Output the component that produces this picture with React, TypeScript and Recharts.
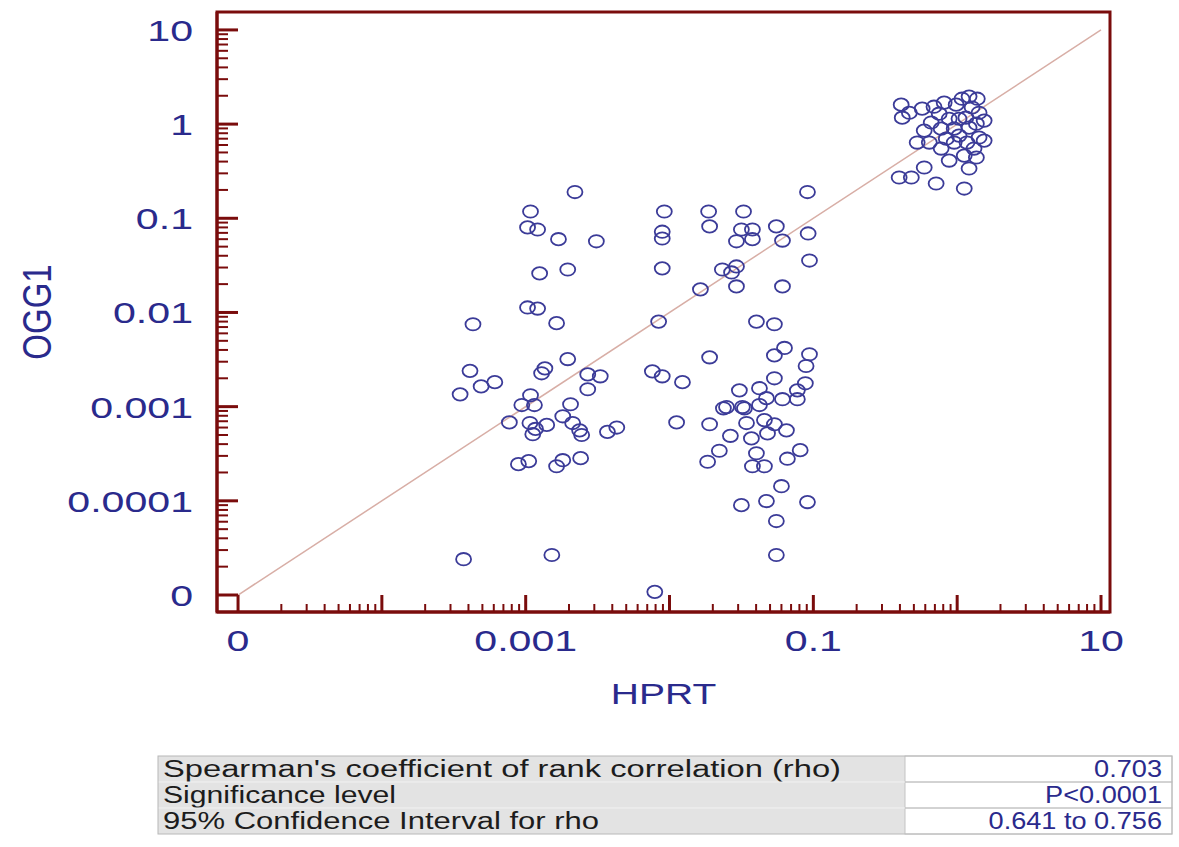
import React from 'react';
import { ScatterChart, Scatter, XAxis, YAxis, ReferenceLine, ReferenceArea } from 'recharts';

// HPRT / OGG1 pairs, grouped by cluster
const hprtLow = [
  0.0022, 0.00108, 0.00103, 0.00121, 0.00169, 0.0031, 0.00125, 0.00196, 0.00103, 0.00121,
  0.00164, 0.00043, 0.00196, 0.00041, 0.00049, 0.00061, 0.00035, 0.00129, 0.00136, 0.0027,
  0.0033, 0.0027, 0.00108, 0.00094, 0.00115, 0.00205, 0.00077, 0.00107, 0.00117, 0.0014,
  0.00112, 0.00181, 0.00212, 0.00237, 0.00245, 0.0037, 0.0043, 0.00089, 0.00105, 0.00164,
  0.00181, 0.00241, 0.00037, 0.00152, 0.0079,
];
const ogg1Low = [
  0.19, 0.118, 0.08, 0.076, 0.06, 0.057, 0.026, 0.0286, 0.0113, 0.011,
  0.0077, 0.0075, 0.0032, 0.0024, 0.00164, 0.00182, 0.00135, 0.00226, 0.00255, 0.0022,
  0.0021, 0.00153, 0.00132, 0.00104, 0.00104, 0.00106, 0.00068, 0.00067, 0.00058, 0.00064,
  0.00051, 0.00079, 0.00067, 0.00056, 0.0005, 0.00054, 0.0006, 0.000245, 0.000264, 0.000233,
  0.00027, 0.000284, 0.000024, 0.0000266, 0.0000108,
];

const hprtMid = [
  0.091, 0.0092, 0.0187, 0.0327, 0.0089, 0.0089, 0.019, 0.0316, 0.0377, 0.0553,
  0.0292, 0.0377, 0.061, 0.092, 0.094, 0.0089, 0.0233, 0.027, 0.0292, 0.0164,
  0.0292, 0.061, 0.0084, 0.0402, 0.0536, 0.019, 0.0536, 0.063, 0.094, 0.089,
  0.0076, 0.0089, 0.0123, 0.0536, 0.0306, 0.0422, 0.088, 0.0774, 0.061, 0.0472,
  0.0774, 0.0249, 0.0321, 0.0112, 0.019, 0.0237, 0.0332, 0.0422, 0.0343, 0.0457,
  0.0536, 0.065, 0.0265, 0.0371, 0.048, 0.0222, 0.0184, 0.0402, 0.0377, 0.0457,
  0.066, 0.081, 0.06, 0.0316, 0.0472, 0.091, 0.0553, 0.0553,
];
const ogg1Mid = [
  0.19, 0.118, 0.118, 0.118, 0.072, 0.061, 0.082, 0.076, 0.076, 0.082,
  0.057, 0.06, 0.058, 0.069, 0.0356, 0.0294, 0.0286, 0.0266, 0.0308, 0.0176,
  0.0189, 0.0189, 0.008, 0.008, 0.0075, 0.00334, 0.0035, 0.0042, 0.0036, 0.0027,
  0.00237, 0.0021, 0.00182, 0.002, 0.00149, 0.00157, 0.00177, 0.00149, 0.0012, 0.00123,
  0.0012, 0.00099, 0.00099, 0.00068, 0.00065, 0.00096, 0.00096, 0.00104, 0.00067, 0.00072,
  0.00065, 0.00056, 0.00049, 0.00046, 0.00052, 0.00034, 0.00026, 0.00032, 0.000233, 0.000233,
  0.00028, 0.000345, 0.000143, 0.00009, 0.0000994, 0.000097, 0.000061, 0.0000266,
];

const hprtHigh = [
  0.408, 0.415, 0.571, 0.812, 1.08, 1.21, 1.27, 0.75, 0.88, 1.15,
  1.42, 0.66, 0.774, 0.953, 1.21, 1.36, 0.527, 0.64, 0.774, 0.953,
  1.17, 1.42, 0.88, 1.12, 1.36, 1.21, 0.59, 0.395, 0.48, 0.714,
  1.12, 1.54, 1.38, 1.03, 0.84, 0.59, 1.03, 0.465, 1.31, 1.54,
  0.984, 0.69,
];
const ogg1High = [
  1.61, 1.17, 1.46, 1.69, 1.86, 1.96, 1.5, 1.29, 1.14, 1.17,
  1.32, 1.04, 0.895, 0.895, 0.918, 1.01, 0.637, 0.637, 0.55, 0.637,
  0.637, 0.72, 0.41, 0.463, 0.442, 0.338, 0.346, 0.271, 0.271, 0.234,
  0.207, 1.09, 1.86, 0.755, 0.7, 0.853, 1.14, 1.32, 0.55, 0.668,
  1.61, 1.53,
];

const decades = [0.00001, 0.0001, 0.001, 0.01, 0.1, 1, 10];
const minorSteps = [2, 3, 4, 5, 6, 7, 8, 9];
const yTickLabels = ['0', '0.0001', '0.001', '0.01', '0.1', '1', '10'];
const xTickLabels = ['0', '', '0.001', '', '0.1', '', '10'];

const statRows = [
  ["Spearman's coefficient of rank correlation (rho)", '0.703'],
  ['Significance level', 'P<0.0001'],
  ['95% Confidence Interval for rho', '0.641 to 0.756'],
];

const AXIS = '#7a0c0c';
const TEXT = '#2a2a8c';
const FONT = '"Liberation Sans", Arial, sans-serif';
const X_DOMAIN = [7.14e-6, 11.55];
const Y_DOMAIN = [6.6e-6, 15.5];

const zip = (xs: number[], ys: number[]) => xs.map((x, i) => ({ x, y: ys[i] }));
const points = [...zip(hprtLow, ogg1Low), ...zip(hprtMid, ogg1Mid), ...zip(hprtHigh, ogg1High)];

const allTicks = decades.flatMap((d, i) =>
  i < decades.length - 1 ? [d, ...minorSteps.map((m) => +(m * d).toPrecision(3))] : [d]
);
const decadeIndex = (v: number) => decades.findIndex((d) => Math.abs(d - v) / d < 1e-6);

const XTick = (props: any) => {
  const { x, y, payload } = props;
  const i = decadeIndex(payload.value);
  const major = i >= 0;
  return (
    <g>
      <line x1={x} y1={y} x2={x} y2={y - (major ? 17 : 8)} stroke={AXIS} strokeWidth={major ? 3 : 2} />
      {major && xTickLabels[i] && (
        <text transform={`translate(${x},${y + 39}) scale(1.37,1)`} textAnchor="middle"
          fill={TEXT} fontSize={30} fontFamily={FONT}>{xTickLabels[i]}</text>
      )}
    </g>
  );
};

const YTick = (props: any) => {
  const { x, y, payload } = props;
  const i = decadeIndex(payload.value);
  const major = i >= 0;
  return (
    <g>
      <line x1={x} y1={y} x2={x + (major ? 21 : 11)} y2={y} stroke={AXIS} strokeWidth={major ? 3 : 2} />
      {major && (
        <text transform={`translate(${x - 24},${y + 11}) scale(1.37,1)`} textAnchor="end"
          fill={TEXT} fontSize={30} fontFamily={FONT}>{yTickLabels[i]}</text>
      )}
    </g>
  );
};

const Ring = (props: any) => (
  <ellipse cx={props.cx} cy={props.cy} rx={7.5} ry={6.2} fill="none" stroke="#3b3b98" strokeWidth={1.8} />
);

const StatsTable = () => {
  const left = 158, split = 905, right = 1172, top = 16, rowH = 26;
  const leftWidths = [678, 233, 436];
  return (
    <svg width={1179} height={107} style={{ position: 'absolute', left: 0, top: 740 }}>
      <rect x={left} y={top} width={split - left} height={rowH * 3} fill="#e3e3e3" />
      <rect x={split} y={top} width={right - split} height={rowH * 3} fill="#fff" />
      {statRows.map((row, r) => (
        <g key={r}>
          <rect x={split} y={top + r * rowH} width={right - split} height={rowH} fill="none" stroke="#c4c4c4" />
          {r > 0 && <line x1={left} x2={split} y1={top + r * rowH} y2={top + r * rowH} stroke="#f2f2f2" />}
          <text x={left + 5} y={top + r * rowH + 21} fontSize={23} fontFamily={FONT} fill="#1c1c1c"
            textLength={leftWidths[r]} lengthAdjust="spacingAndGlyphs">{row[0]}</text>
          <text transform={`translate(${right - 10},${top + r * rowH + 21}) scale(1.18,1)`} textAnchor="end"
            fontSize={23} fontFamily={FONT} fill={TEXT}>{row[1]}</text>
        </g>
      ))}
      <rect x={left} y={top} width={right - left} height={rowH * 3} fill="none" stroke="#b8b8b8" />
    </svg>
  );
};

export default function App() {
  return (
    <div style={{ position: 'absolute', left: 0, top: 0, width: 1179, height: 847, background: '#fff' }}>
      <ScatterChart width={1179} height={740} margin={{ top: 12, right: 69, bottom: 40, left: 0 }}>
        <XAxis type="number" dataKey="x" scale="log" domain={X_DOMAIN} allowDataOverflow
          ticks={allTicks} interval={0} tick={<XTick />} tickLine={false} tickSize={0} tickMargin={0}
          axisLine={{ stroke: AXIS, strokeWidth: 3 }} height={88}
          label={{ value: 'HPRT', content: (p: any) => (
            <text transform={`translate(${p.viewBox.x + p.viewBox.width / 2},${p.viewBox.y + 92}) scale(1.3,1)`}
              textAnchor="middle" fill={TEXT} fontSize={30} fontFamily={FONT}>HPRT</text>
          ) }} />
        <YAxis type="number" dataKey="y" scale="log" domain={Y_DOMAIN} allowDataOverflow
          ticks={allTicks} interval={0} tick={<YTick />} tickLine={false} tickSize={0} tickMargin={0}
          axisLine={{ stroke: AXIS, strokeWidth: 3 }} width={217}
          label={{ value: 'OGG1', content: (p: any) => (
            <text transform={`translate(51,${p.viewBox.y + p.viewBox.height / 2}) scale(1.37,1.1) rotate(-90)`}
              textAnchor="middle" fill={TEXT} fontSize={30} fontFamily={FONT}>OGG1</text>
          ) }} />
        <ReferenceArea x1={X_DOMAIN[0]} x2={X_DOMAIN[1]} y1={Y_DOMAIN[0]} y2={Y_DOMAIN[1]}
          fill="none" fillOpacity={0} stroke={AXIS} strokeWidth={3} ifOverflow="visible" />
        <ReferenceLine segment={[{ x: 0.00001, y: 0.00001 }, { x: 10, y: 10 }]}
          stroke="#d8aea6" strokeWidth={1.5} ifOverflow="visible" />
        <Scatter data={points} shape={<Ring />} isAnimationActive={false} />
      </ScatterChart>
      <StatsTable />
    </div>
  );
}
